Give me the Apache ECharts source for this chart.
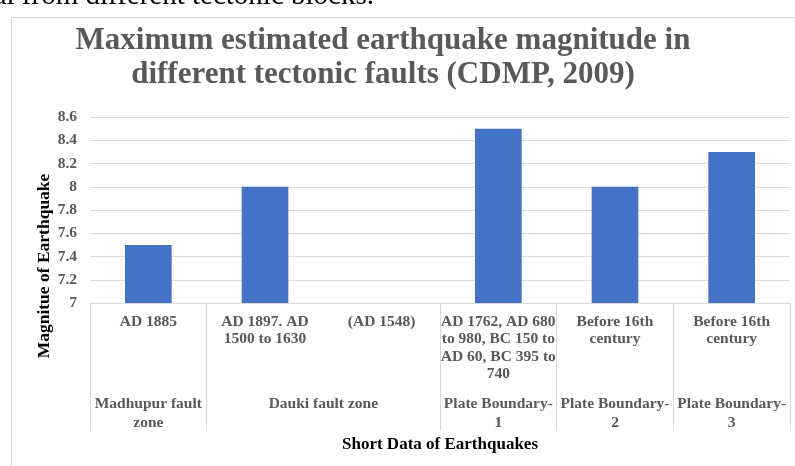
<!DOCTYPE html>
<html>
<head>
<meta charset="utf-8">
<script src="https://cdn.jsdelivr.net/npm/echarts@6/dist/echarts.min.js"></script>
<style>
  html, body { margin: 0; padding: 0; background: #ffffff; }
  #chart { width: 795px; height: 466px; }
</style>
</head>
<body>
<div id="chart"></div>
<script>
// Earthquake dates per fault (leaf level of the category axis)
const quakeDates = [
  'AD 1885',
  'AD 1897. AD\n1500 to 1630',
  '(AD 1548)',
  'AD 1762, AD 680\nto 980, BC 150 to\nAD 60, BC 395 to\n740',
  'Before 16th\ncentury',
  'Before 16th\ncentury'
];
// Maximum estimated magnitude for each date entry (no value for AD 1548)
const magnitudes = [7.5, 8.0, null, 8.5, 8.0, 8.3];
// Fault zones (outer level) and how many date entries each one spans
const faultZones = [
  'Madhupur fault\nzone',
  'Dauki fault zone',
  'Plate Boundary-\n1',
  'Plate Boundary-\n2',
  'Plate Boundary-\n3'
];
const zoneSpans = [1, 2, 1, 1, 1];
// Magnitude axis range
const magMin = 7, magMax = 8.6, magStep = 0.2;

// centre of each fault zone in category units (0 .. quakeDates.length)
const zoneCentres = {};
let acc = 0;
faultZones.forEach((z, i) => {
  zoneCentres[(acc + zoneSpans[i] / 2).toFixed(1)] = z;
  acc += zoneSpans[i];
});
// boundaries inside a zone carry no divider
const innerBounds = new Set();
acc = 0;
zoneSpans.forEach(s => { for (let k = 1; k < s; k++) innerBounds.add(acc + k); acc += s; });

const serif = "'Liberation Serif', 'Times New Roman', serif";
const grey = '#595959';
const lineGrey = '#d9d9d9';
const labelSize = 15.5;

const chart = echarts.init(document.getElementById('chart'), null, { renderer: 'canvas' });
chart.setOption({
  animation: false,
  backgroundColor: '#ffffff',
  grid: { left: 90, right: 5, top: 117, bottom: 163, containLabel: false },
  xAxis: [
    {
      type: 'category',
      data: quakeDates,
      position: 'bottom',
      axisLine: { show: true, lineStyle: { color: lineGrey, width: 1 } },
      axisTick: {
        show: true,
        length: 127,
        interval: (i) => !innerBounds.has(i),
        lineStyle: { color: lineGrey, width: 1 }
      },
      axisLabel: {
        interval: 0,
        margin: 10,
        color: grey,
        fontFamily: serif,
        fontWeight: 'bold',
        fontSize: labelSize,
        lineHeight: 17.5,
        align: 'center',
        verticalAlign: 'top'
      },
      name: 'Short Data of Earthquakes',
      nameLocation: 'middle',
      nameGap: 133,
      nameTextStyle: { color: '#000000', fontFamily: serif, fontWeight: 'bold', fontSize: 17 }
    },
    {
      type: 'value',
      position: 'bottom',
      min: 0,
      max: quakeDates.length,
      interval: 0.5,
      axisLine: { show: false },
      axisTick: { show: false },
      splitLine: { show: false },
      axisLabel: {
        margin: 91,
        color: grey,
        fontFamily: serif,
        fontWeight: 'bold',
        fontSize: labelSize,
        lineHeight: 19,
        align: 'center',
        verticalAlign: 'top',
        formatter: (v) => zoneCentres[v.toFixed(1)] || ''
      }
    }
  ],
  yAxis: {
    type: 'value',
    min: magMin,
    max: magMax,
    interval: magStep,
    axisLine: { show: false },
    axisTick: { show: false },
    splitLine: { show: true, lineStyle: { color: lineGrey, width: 1 } },
    axisLabel: {
      margin: 13,
      color: grey,
      fontFamily: serif,
      fontWeight: 'bold',
      fontSize: labelSize
    }
  },
  series: [{
    type: 'bar',
    xAxisIndex: 0,
    data: magnitudes,
    barWidth: '40%',
    itemStyle: { color: '#4472C4' }
  }],
  graphic: [
    {
      type: 'rect',
      silent: true,
      shape: { x: 11.5, y: 17.5, width: 800, height: 460 },
      style: { fill: null, stroke: lineGrey, lineWidth: 1 }
    },
    {
      type: 'text',
      silent: true,
      x: 374, y: -3.5,
      style: {
        text: 'al from different tectonic blocks.',
        font: "29px 'Liberation Serif', 'Times New Roman', serif",
        fill: '#000000',
        textAlign: 'right',
        textVerticalAlign: 'middle'
      }
    },
    {
      type: 'text',
      silent: true,
      x: 383, y: 24,
      style: {
        text: 'Maximum estimated earthquake magnitude in\ndifferent tectonic faults (CDMP, 2009)',
        font: "bold 31px 'Liberation Serif', 'Times New Roman', serif",
        lineHeight: 34,
        fill: grey,
        textAlign: 'center',
        textVerticalAlign: 'top'
      }
    },
    {
      type: 'text',
      silent: true,
      x: 44, y: 266,
      rotation: Math.PI / 2,
      style: {
        text: 'Magnitue of Earthquake',
        font: "bold 17.5px 'Liberation Serif', 'Times New Roman', serif",
        fill: '#000000',
        textAlign: 'center',
        textVerticalAlign: 'middle'
      }
    }
  ]
});
</script>
</body>
</html>
